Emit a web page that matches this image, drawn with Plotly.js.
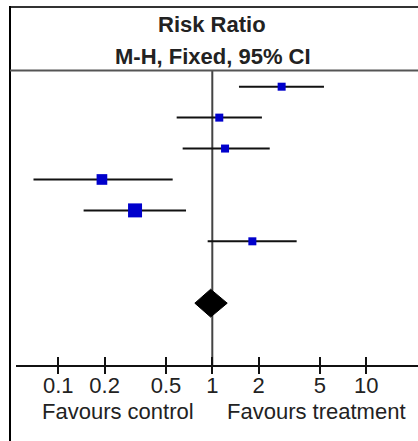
<!DOCTYPE html>
<html>
<head>
<meta charset="utf-8">
<script src="https://cdn.plot.ly/plotly-3.0.1.min.js"></script>
<style>
  html, body { margin: 0; padding: 0; background: #ffffff; }
  #chart { width: 418px; height: 441px; }
</style>
</head>
<body>
<div id="chart"></div>
<script>
// ---- data ----
const studyRows   = [1, 2, 3, 4, 5, 6];
const riskRatio   = [2.82, 1.11, 1.21, 0.192, 0.315, 1.82];
const ciLower     = [1.49, 0.587, 0.642, 0.069, 0.146, 0.933];
const ciUpper     = [5.31, 2.10, 2.36, 0.553, 0.675, 3.53];
const weights     = [11.3, 11.3, 11.3, 20.1, 34.6, 11.3];
const pooledRow   = 8;
const pooledRR    = 0.975;
const pooledLower = 0.77;
const pooledUpper = 1.25;
const tickValues  = [0.1, 0.2, 0.5, 1, 2, 5, 10];
const tickLabels  = ["0.1", "0.2", "0.5", "1", "2", "5", "10"];
const titleLine1  = "Risk Ratio";
const titleLine2  = "M-H, Fixed, 95% CI";
const leftLabel   = "Favours control";
const rightLabel  = "Favours treatment";

// ---- layout constants ----
const W = 418, H = 441;
const mL = 16, mR = 0, mT = 71, mB = 0;
const plotW = W - mL - mR, plotH = H - mT - mB;
const axisPx = 365;
const yDomBottom = (H - axisPx) / plotH;
const yRange = [10, 0.4922];
const xRange = [-1.2747, 1.3357];
const px2paperX = p => (p - mL) / plotW;
const px2paperY = p => (H - mB - p) / plotH;
const diamondHalf = 0.45;
const FONT = "Liberation Sans, Arial, sans-serif";

const ciPlus  = riskRatio.map((v, i) => ciUpper[i] - v);
const ciMinus = riskRatio.map((v, i) => v - ciLower[i]);
const sizes   = weights.map(w => 2.38 * Math.sqrt(w));

const traces = [
  { // line of no effect
    x: [1, 1], y: [yRange[1], yRange[0]],
    mode: "lines", line: { color: "#444444", width: 2 },
    hoverinfo: "skip", showlegend: false
  },
  { // study estimates with CI
    x: riskRatio, y: studyRows,
    mode: "markers",
    marker: { symbol: "square", size: sizes, color: "#0000cc", opacity: 1, line: { width: 0 } },
    error_x: { type: "data", symmetric: false, array: ciPlus, arrayminus: ciMinus,
               color: "#111111", thickness: 2, width: 0 },
    showlegend: false
  },
  { // pooled diamond
    x: [pooledLower, pooledRR, pooledUpper, pooledRR, pooledLower],
    y: [pooledRow, pooledRow - diamondHalf, pooledRow, pooledRow + diamondHalf, pooledRow],
    mode: "lines", fill: "toself", fillcolor: "#000000",
    line: { color: "#000000", width: 1 }, showlegend: false
  },
  { // helper for upward tick marks
    x: [pooledRR], y: [pooledRow], xaxis: "x2", mode: "markers",
    marker: { opacity: 0 }, hoverinfo: "skip", showlegend: false
  },
  { // helper for downward tick marks
    x: [pooledRR], y: [pooledRow], xaxis: "x3", mode: "markers",
    marker: { opacity: 0 }, hoverinfo: "skip", showlegend: false
  }
];

const tickAxisBase = {
  type: "log", range: xRange, overlaying: "x", anchor: "free",
  position: yDomBottom,
  tickmode: "array", tickvals: tickValues,
  ticks: "outside", ticklen: 8, tickwidth: 2, tickcolor: "#111111",
  showticklabels: false, showline: false, showgrid: false, zeroline: false
};

const layout = {
  width: W, height: H,
  margin: { l: mL, r: mR, t: mT, b: mB, pad: 0 },
  paper_bgcolor: "#ffffff", plot_bgcolor: "rgba(0,0,0,0)",
  showlegend: false,
  font: { family: FONT, size: 22, color: "#222222" },
  xaxis: {
    type: "log", range: xRange, anchor: "y",
    tickmode: "array", tickvals: tickValues, ticktext: tickLabels,
    ticks: "", showline: true, linecolor: "#111111", linewidth: 2,
    showgrid: false, zeroline: false,
    tickfont: { family: FONT, size: 22, color: "#222222" },
    fixedrange: true
  },
  xaxis2: Object.assign({}, tickAxisBase, { side: "top" }),
  xaxis3: Object.assign({}, tickAxisBase, { side: "bottom" }),
  yaxis: {
    domain: [yDomBottom, 1], range: yRange,
    visible: false, showgrid: false, zeroline: false, fixedrange: true
  },
  shapes: [
    { type: "line", xref: "paper", yref: "paper",
      x0: px2paperX(9), x1: 1.01, y0: px2paperY(7), y1: px2paperY(7),
      line: { color: "#333333", width: 2 } },
    { type: "line", xref: "paper", yref: "paper",
      x0: px2paperX(10), x1: px2paperX(10), y0: px2paperY(6), y1: -0.02,
      line: { color: "#000000", width: 2 } },
    { type: "line", xref: "paper", yref: "paper",
      x0: px2paperX(10), x1: 1.01, y0: px2paperY(70.5), y1: px2paperY(70.5),
      line: { color: "#555555", width: 2 } }
  ],
  annotations: [
    { text: "<b>" + titleLine1 + "</b>", xref: "paper", yref: "paper",
      x: px2paperX(212), y: px2paperY(25), xanchor: "center", yanchor: "middle",
      showarrow: false, font: { family: FONT, size: 22, color: "#222222" } },
    { text: "<b>" + titleLine2 + "</b>", xref: "paper", yref: "paper",
      x: px2paperX(212.5), y: px2paperY(56.5), xanchor: "center", yanchor: "middle",
      showarrow: false, font: { family: FONT, size: 22, color: "#222222" } },
    { text: leftLabel, xref: "paper", yref: "paper",
      x: px2paperX(118.3), y: px2paperY(411), xanchor: "center", yanchor: "middle",
      showarrow: false, font: { family: FONT, size: 22, color: "#222222" } },
    { text: rightLabel, xref: "paper", yref: "paper",
      x: px2paperX(316), y: px2paperY(411), xanchor: "center", yanchor: "middle",
      showarrow: false, font: { family: FONT, size: 22, color: "#222222" } }
  ]
};

Plotly.newPlot("chart", traces, layout, { displayModeBar: false, staticPlot: true });
</script>
</body>
</html>
